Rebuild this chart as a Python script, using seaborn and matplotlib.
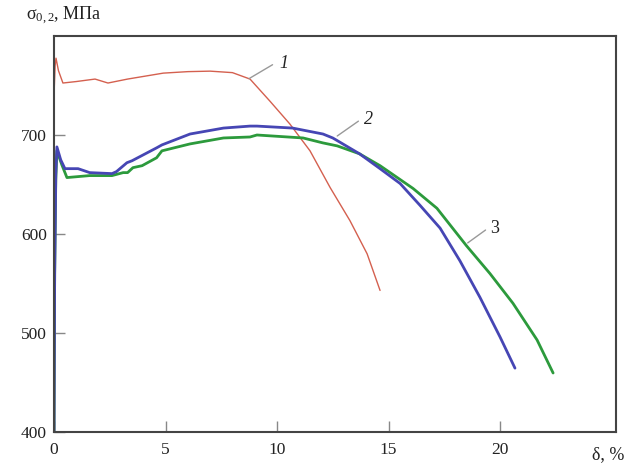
import matplotlib
matplotlib.use("Agg")
import matplotlib.pyplot as plt
import seaborn as sns
import pandas as pd

# ---- data ----
x1 = [0.0, 0.05, 0.09, 0.2, 0.4, 1.0, 1.84, 2.42, 3.3, 4.1, 4.9, 6.0, 7.0, 8.0, 8.79,
      9.69, 10.58, 11.48, 12.38, 13.27, 14.04, 14.62]
y1 = [740, 770, 777.6, 765, 752.5, 754, 756.5, 752.5, 756.5, 759.5, 762.5, 764, 764.5, 763, 756.5,
      734, 711, 684, 647, 613.5, 580, 543]

x2 = [0.0, 0.03, 0.08, 0.13, 0.3, 0.49, 1.08, 1.6, 2.6, 2.8, 3.27, 3.5, 4.6, 4.84, 6.1, 7.6,
      8.79, 9.1, 10.7, 12.06, 12.5, 13.7, 14.62, 15.52, 16.41, 17.31, 18.2, 19.1, 20.0, 20.67]
y2 = [400, 560, 660, 688, 675, 666, 666, 662, 661, 663, 672, 674, 687, 690, 701, 707,
      709, 709, 707, 701, 697, 681, 666, 651, 629, 606, 573, 536, 496, 464.5]

x3 = [0.0, 0.03, 0.08, 0.13, 0.35, 0.58, 1.6, 2.6, 3.1, 3.3, 3.54, 3.95, 4.6, 4.84, 6.1, 7.6,
      8.79, 9.1, 11.17, 12.06, 12.7, 13.7, 14.62, 16.1, 17.17, 18.5, 19.55, 20.58, 21.66, 22.38]
y3 = [400, 560, 655, 684, 670, 657, 659, 659, 662, 662, 667, 669, 677, 684, 691, 697,
      698, 700, 697, 692, 689, 681, 669, 646, 626, 588, 560, 530, 493, 459.6]

curve_labels = ["1", "2", "3"]
x_ticks = [0, 5, 10, 15, 20]
y_ticks = [400, 500, 600, 700]

df = pd.concat([
    pd.DataFrame({"x": x1, "y": y1, "c": "1"}),
    pd.DataFrame({"x": x2, "y": y2, "c": "2"}),
    pd.DataFrame({"x": x3, "y": y3, "c": "3"}),
], ignore_index=True)

sns.set_theme(style="white")
plt.rcParams["font.family"] = ["Liberation Serif", "DejaVu Serif"]
plt.rcParams["mathtext.fontset"] = "custom"
plt.rcParams["mathtext.rm"] = "Liberation Serif"
plt.rcParams["mathtext.it"] = "Liberation Serif:italic"

fig = plt.figure(figsize=(6.41, 4.66), dpi=100)
ax = fig.add_axes([54 / 641, 1 - 432 / 466, (616 - 54) / 641, (432 - 36) / 466])

palette = {"1": "#d4604f", "2": "#4646b4", "3": "#2c9a3c"}
widths = {"1": 1.0, "2": 2.0, "3": 2.0}
for c in ["1", "3", "2"]:
    sub = df[df["c"] == c]
    sns.lineplot(data=sub, x="x", y="y", color=palette[c], linewidth=widths[c],
                 sort=False, estimator=None, ax=ax, legend=False)

ax.set_xlim(0, 25.2)
ax.set_ylim(400, 800)
ax.set_xticks(x_ticks)
ax.set_yticks(y_ticks)
ax.set_xticklabels([str(t) for t in x_ticks])
ax.set_yticklabels([str(t) for t in y_ticks])
ax.set_xlabel("")
ax.set_ylabel("")
ax.tick_params(axis="both", direction="in", length=8, width=1.0, color="#888888",
               labelsize=12.5, labelcolor="#222222")
ax.tick_params(axis="x", pad=7)
ax.tick_params(axis="y", pad=5)
ax.xaxis.set_ticks_position("bottom")
ax.yaxis.set_ticks_position("left")
for s in ax.spines.values():
    s.set_color("#444444")
    s.set_linewidth(1.5)

# axis titles
fig.text(26 / 641, 1 - 16 / 466, r"$\mathrm{σ}_{0,2}$, МПа", fontsize=13,
         color="#222222", ha="left", va="center")
fig.text(608 / 641, 1 - 455 / 466, "δ, %", fontsize=13, color="#222222",
         ha="center", va="center")

# curve labels with leaders
lead = "#999999"
ax.plot([8.75, 9.8], [757, 771], color=lead, lw=1.0)
ax.text(10.3, 772, curve_labels[0], fontsize=13, style="italic", ha="center", va="center", color="#222222")
ax.plot([12.7, 13.65], [699, 714], color=lead, lw=1.0)
ax.text(14.1, 716, curve_labels[1], fontsize=13, style="italic", ha="center", va="center", color="#222222")
ax.plot([18.55, 19.35], [591, 604], color=lead, lw=1.0)
ax.text(19.75, 606, curve_labels[2], fontsize=13, ha="center", va="center", color="#222222")

fig.savefig("out.png", dpi=100, facecolor="white")
